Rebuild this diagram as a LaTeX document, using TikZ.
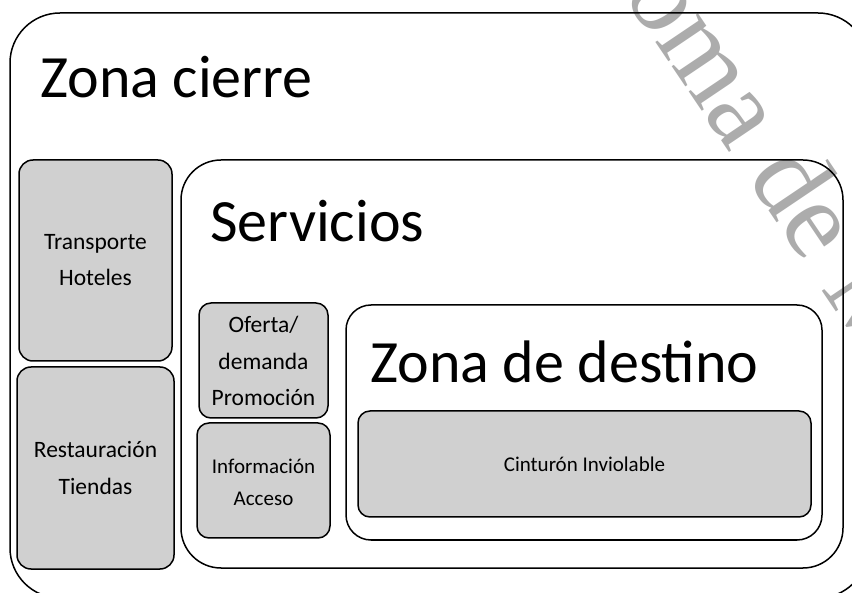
\documentclass[tikz,border=0pt]{standalone}
\usepackage{fontspec}
\setmainfont{Carlito}
\newfontfamily\wmfont{Liberation Serif}
\definecolor{boxgray}{RGB}{208,208,208}
\definecolor{wmgray}{RGB}{172,172,172}
\tikzset{
  zone/.style={draw=black, line width=1.5pt},
  graybox/.style={draw=black, line width=1.5pt, fill=boxgray, rounded corners=14pt},
  title/.style={anchor=base west, inner sep=0pt, font=\fontsize{60}{72}\selectfont},
  lbl/.style={align=center, inner sep=0pt, font=\fontsize{23.5}{36.5}\selectfont},
}
\begin{document}
\begin{tikzpicture}[x=1pt,y=-1pt]
\useasboundingbox (0,0) rectangle (852,593);
\clip (0,0) rectangle (852,593);
% watermark
\node[font=\wmfont\fontsize{112}{120}\selectfont, text=wmgray, rotate=-56, anchor=base west, inner sep=0pt] (wm) at (466,-238) {Autónoma de Madrid};
% outer zone
\draw[zone, rounded corners=50pt] (10,13) rectangle (868,598);
\node[title] (tcierre) at (40,98) {Zona cierre};
% left boxes
\draw[graybox] (19,160) rectangle (172,361);
\node[lbl] (transp) at (95.5,260) {Transporte\\Hoteles};
\draw[graybox] (17,367) rectangle (174,569);
\node[lbl] (rest) at (95.5,468) {Restauración\\Tiendas};
% servicios
\draw[zone, rounded corners=40pt] (181,160) rectangle (843,568);
\node[title] (tserv) at (210,242) {Servicios};
\draw[graybox, rounded corners=12pt] (199,303) rectangle (328,418);
\node[lbl] (oferta) at (263.5,361) {Oferta/\\demanda\\Promoción};
\draw[graybox, rounded corners=12pt] (197,423) rectangle (330,538);
\node[lbl, font=\fontsize{21}{32}\selectfont] (info) at (263.5,482) {Información\\Acceso};
% destino
\draw[zone, rounded corners=25pt] (346,305) rectangle (822,540);
\node[title] (tdest) at (370,383) {Zona de destino};
\draw[graybox, rounded corners=12pt] (358,411) rectangle (811,517);
\node[lbl, font=\fontsize{21}{32}\selectfont] (cint) at (584.5,464) {Cinturón Inviolable};
\end{tikzpicture}
\end{document}
